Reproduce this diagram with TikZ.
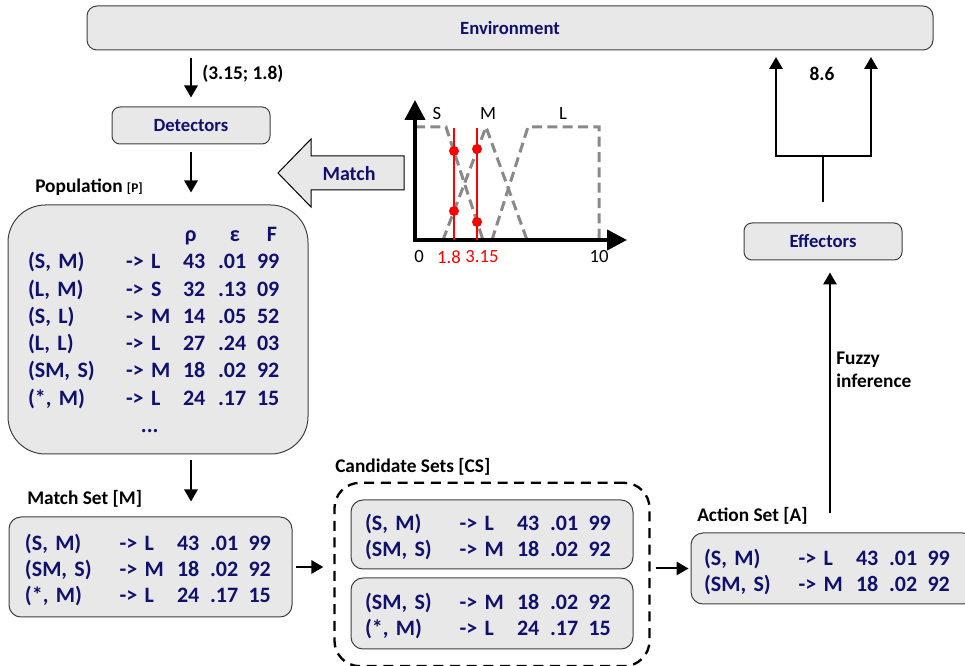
\documentclass[tikz,border=0pt]{standalone}
\usepackage{fontspec}
\setmainfont{Carlito}
\usepackage{array}
\usetikzlibrary{arrows.meta,fit}
\definecolor{navy}{RGB}{16,16,110}
\definecolor{boxfill}{RGB}{232,232,232}
\definecolor{boxline}{RGB}{64,64,64}
\definecolor{mfgray}{RGB}{137,137,137}
\setlength{\tabcolsep}{0pt}
\newcommand{\rowfont}{\fontsize{16.5}{19.5}\selectfont\bfseries}
\newcommand{\boxfont}{\fontsize{14}{17}\selectfont\bfseries}
\newcommand{\capfont}{\fontsize{14.5}{17.25}\selectfont\bfseries}
\newcommand{\plotfont}{\fontsize{14}{17}\selectfont}
\newcommand{\tagfont}{\fontsize{10}{12}\selectfont}
\begin{document}
\begin{tikzpicture}[x=0.75pt, y=-0.75pt,
    box/.style={draw=boxline, fill=boxfill, line width=0.75pt, rounded corners=9pt, text=navy, font=\rowfont},
    tab/.style={box, align=left, inner ysep=0pt},
    lab/.style={font=\capfont, anchor=west, inner sep=0pt},
    conn/.style={line width=1.5pt},
    arr/.style={conn, -{Triangle[width=10pt,length=9pt]}},
    mf/.style={mfgray, line width=2.25pt, dash pattern=on 7.5pt off 4pt},
    cut/.style={red, line width=1.5pt},
    dot/.style={circle, fill=red, inner sep=0pt, minimum size=7.5pt},
    axis/.style={line width=3pt, -{Triangle[width=15pt,length=15pt]}}]
  \useasboundingbox (0,0) rectangle (965,666);

  \node[box, font=\boxfont, rounded corners=7.5pt, minimum width=634.5pt, minimum height=33pt] (env) at (510,28) {Environment};
  \node[box, font=\boxfont, rounded corners=6pt, minimum width=118.5pt, minimum height=27.75pt] (det) at (191,125.5) {Detectors};
  \node[box, font=\boxfont, rounded corners=6pt, minimum width=118.5pt, minimum height=27.75pt] (eff) at (823,241.5) {Effectors};

  \node[lab] (poplab) at (35,187) {Population {\tagfont[P]}};
  \node[tab, rounded corners=28pt, text width=195pt, inner xsep=15pt, minimum height=186.75pt] (pop) at (158,329.5) {\renewcommand{\arraystretch}{1.05}%
    \raisebox{-1.5pt}[\height][\depth]{\begin{tabular}{@{}p{73.5pt}p{42.75pt}p{26.25pt}p{29.25pt}l@{}}
      & & \hspace{1.5pt}ρ & \hspace{9pt}ε & \hspace{7.5pt}F\\
      (S, M) & -> L & 43 & .01 & 99\\
      (L, M) & -> S & 32 & .13 & 09\\
      (S, L) & -> M & 14 & .05 & 52\\
      (L, L) & -> L & 27 & .24 & 03\\
      (SM, S) & -> M & 18 & .02 & 92\\
      (*, M) & -> L & 24 & .17 & 15\\
      & \hspace{11.25pt}... & & & \\
    \end{tabular}}};

  \node[lab] (mlab) at (27,499) {Match Set [M]};
  \node[tab, text width=188.25pt, inner xsep=12pt, minimum height=75pt] (mset) at (150.5,567) {%
    \raisebox{-3pt}[\height][\depth]{\begin{tabular}{@{}p{70.9pt}p{43.1pt}p{24.75pt}p{28.9pt}l@{}}
      (S, M) & -> L & 43 & .01 & 99\\
      (SM, S) & -> M & 18 & .02 & 92\\
      (*, M) & -> L & 24 & .17 & 15\\
    \end{tabular}}};

  \node[lab] (clab) at (335,467) {Candidate Sets [CS]};
  \node[tab, text width=190.5pt, inner xsep=10.5pt, minimum height=51.75pt] (c1) at (492,534.5) {%
    \raisebox{-3pt}[\height][\depth]{\begin{tabular}{@{}p{70.9pt}p{43.1pt}p{24.75pt}p{28.9pt}l@{}}
      (S, M) & -> L & 43 & .01 & 99\\
      (SM, S) & -> M & 18 & .02 & 92\\
    \end{tabular}}};
  \node[tab, text width=190.5pt, inner xsep=10.5pt, minimum height=53.25pt] (c2) at (492,613.5) {%
    \raisebox{-3pt}[\height][\depth]{\begin{tabular}{@{}p{70.9pt}p{43.1pt}p{24.75pt}p{28.9pt}l@{}}
      (SM, S) & -> M & 18 & .02 & 92\\
      (*, M) & -> L & 24 & .17 & 15\\
    \end{tabular}}};
  \node[draw, line width=1.75pt, dash pattern=on 7.5pt off 5pt, rounded corners=19pt, fit=(c1)(c2), inner xsep=12pt, inner ysep=12.5pt] (cand) {};

  \node[lab] (alab) at (697,516) {Action Set [A]};
  \node[tab, text width=193.5pt, inner xsep=9.75pt, minimum height=53.25pt] (act) at (833,568.5) {%
    \raisebox{-3.5pt}[\height][\depth]{\begin{tabular}{@{}p{70.9pt}p{43.1pt}p{24.75pt}p{28.9pt}l@{}}
      (S, M) & -> L & 43 & .01 & 99\\
      (SM, S) & -> M & 18 & .02 & 92\\
    \end{tabular}}};

  \draw[arr, shorten <=6pt, shorten >=6.75pt] (env.south -| det) -- (det);
  \node[lab] (inp) at (202,74) {(3.15; 1.8)};
  \draw[arr, shorten <=6pt, shorten >=9pt] (det) -- (det |- pop.north);
  \draw[arr, shorten <=4.5pt, shorten >=11.25pt] (det |- pop.south) -- (det |- mset.north);
  \draw[arr, shorten <=2.25pt, shorten >=7.5pt] (mset) -- (mset -| cand.west);
  \draw[arr, shorten <=3.75pt, shorten >=1.5pt] (cand.east |- act) -- (act);
  \draw[arr, shorten <=14.25pt, shorten >=9pt] ([xshift=-2.25pt]act.north) -- ([xshift=-2.25pt]act.north |- eff.south);
  \node[lab, align=left] (fz) at (836,370) {Fuzzy\\inference};

  \coordinate (fk) at (823,156);
  \coordinate (outl) at (776,57);
  \coordinate (outr) at (871,57);
  \draw[conn] ([yshift=15pt]eff.north) -- (fk);
  \draw[conn, {Triangle[width=10pt,length=9pt]}-{Triangle[width=10pt,length=9pt]}] (outl) -- (outl |- fk) -- (outr |- fk) -- (outr);
  \node[lab, anchor=center] (val) at (822,74) {8.6};

  \draw[fill=boxfill, line width=0.75pt] (404,156) -- (311,156) -- (311,139) -- (278,173) -- (311,207) -- (311,190) -- (404,190) -- cycle;
  \node[text=navy, font=\fontsize{15}{18}\selectfont\bfseries] (mt) at (349,174) {Match};

  \coordinate (o) at (415,240);
  \draw[mf] (415,127) -- (446,127) -- (483,240);
  \draw[mf] (443,240) -- (486,127) -- (527,240);
  \draw[mf] (492,240) -- (528,127) -- (599,127) -- (599,240);
  \draw[axis] ([yshift=1.5pt]o) -- (415,100);
  \draw[axis] ([xshift=-1.5pt]o) -- (627,240);
  \draw[cut] (454,128) -- (454,240);
  \draw[cut] (477,128) -- (477,240);
  \node[dot] (d1) at (454,151) {};
  \node[dot] (d2) at (454,211) {};
  \node[dot] (d3) at (477,149) {};
  \node[dot] (d4) at (477,222) {};
  \node[font=\plotfont, inner sep=0pt] (ms) at (437,114) {S};
  \node[font=\plotfont, inner sep=0pt] (mm) at (488,114) {M};
  \node[font=\plotfont, inner sep=0pt] (ml) at (563,114) {L};
  \node[font=\plotfont, inner sep=0pt] (t0) at (419,257) {0};
  \node[font=\plotfont, inner sep=0pt, red] (t1) at (449,257) {1.8};
  \node[font=\plotfont, inner sep=0pt, red] (t2) at (482,257) {3.15};
  \node[font=\plotfont, inner sep=0pt] (t3) at (599,257) {10};
\end{tikzpicture}
\end{document}
